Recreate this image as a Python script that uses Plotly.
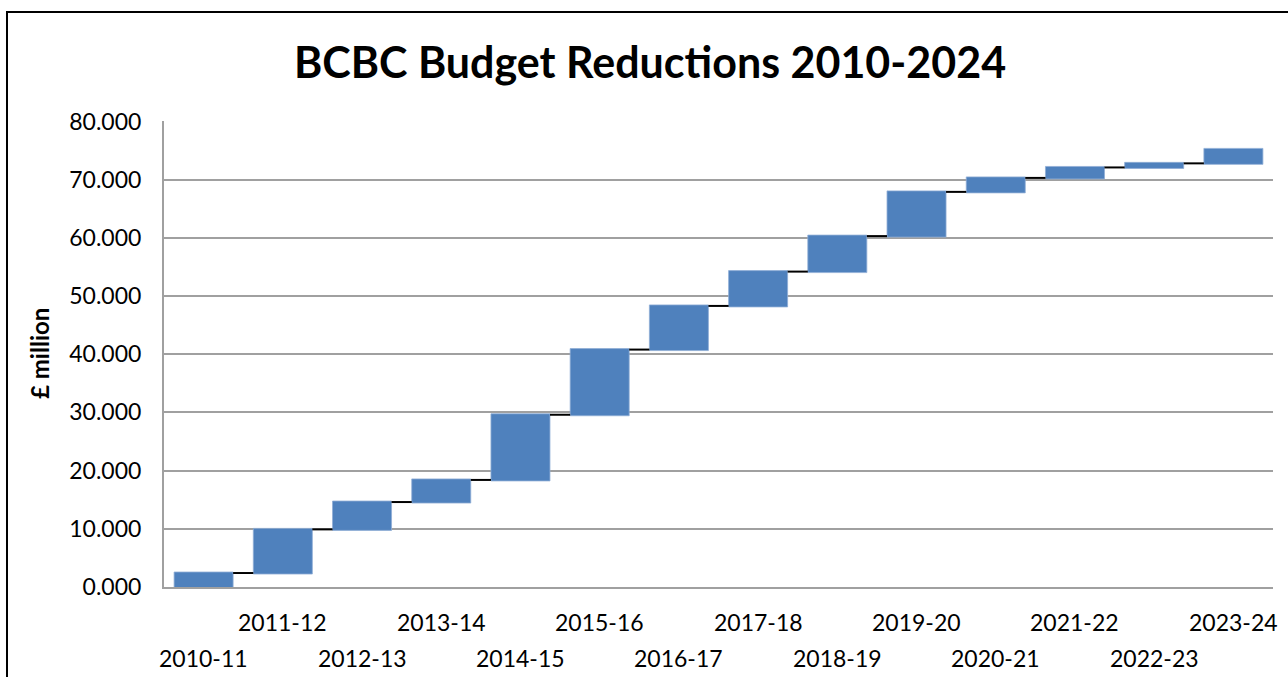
import plotly.graph_objects as go

years = ["2010-11", "2011-12", "2012-13", "2013-14", "2014-15", "2015-16", "2016-17",
         "2017-18", "2018-19", "2019-20", "2020-21", "2021-22", "2022-23", "2023-24"]
reductions = [2.4, 7.5, 4.7, 3.8, 11.2, 11.2, 7.5, 5.9, 6.1, 7.6, 2.4, 1.8, 0.7, 2.4]
y_ticks = [0, 10, 20, 30, 40, 50, 60, 70, 80]
y_tick_labels = ["%.3f" % v for v in y_ticks]

W, H = 1288, 677
ML, MR, MT, MB = 164, 15, 121, 90
PW = W - ML - MR
PH = H - MT - MB

FONT = "Lato, Open Sans, sans-serif"
BLUE = "#4F81BD"
GRID = "#A0A0A0"

fig = go.Figure()
fig.add_trace(go.Waterfall(
    x=years,
    y=reductions,
    measure=["relative"] * len(years),
    increasing=dict(marker=dict(color=BLUE, line=dict(color="#8FADD6", width=0.8))),
    decreasing=dict(marker=dict(color=BLUE)),
    totals=dict(marker=dict(color=BLUE)),
    connector=dict(mode="between", line=dict(color="black", width=2)),
    hoverinfo="x+y",
))

# staggered category labels
annotations = []
for i, lab in enumerate(years):
    annotations.append(dict(
        x=lab, xref="x", y=0, yref="paper", yanchor="middle",
        yshift=-35 if i % 2 == 1 else -71,
        text=lab, showarrow=False,
        font=dict(family=FONT, size=23, color="black"),
    ))

annotations.append(dict(
    x=(39 - ML) / PW, xref="paper", y=0.5, yref="paper",
    text="<b>£ million</b>", textangle=-90, showarrow=False,
    xanchor="center", yanchor="middle",
    font=dict(family=FONT, size=24, color="black"),
))

frame = dict(
    type="path", xref="paper", yref="paper",
    path="M %f %f L %f %f L %f %f" % (
        (7 - ML) / PW, -(H + 20 - MT - PH) / PH,
        (7 - ML) / PW, 1 + (MT - 12) / PH,
        (W + 20 - ML) / PW, 1 + (MT - 12) / PH),
    line=dict(color="black", width=2),
)

fig.update_layout(
    width=W, height=H,
    margin=dict(l=ML, r=MR, t=MT, b=MB),
    paper_bgcolor="white", plot_bgcolor="white",
    showlegend=False,
    waterfallgap=0.255,
    title=dict(
        text="<b>BCBC Budget Reductions 2010-2024</b>",
        x=650 / W, xref="container", xanchor="center",
        y=1 - 63 / H, yref="container", yanchor="middle",
        font=dict(family=FONT, size=43, color="black"),
    ),
    xaxis=dict(
        type="category", range=[-0.5, len(years) - 0.5],
        showticklabels=False, showgrid=False, ticks="",
        showline=True, linecolor=GRID, linewidth=2,
    ),
    yaxis=dict(
        range=[0, 80.08], tickvals=y_ticks, ticktext=y_tick_labels,
        showgrid=True, gridcolor=GRID, gridwidth=1.5,
        showline=True, linecolor=GRID, linewidth=2,
        ticks="", ticklabelstandoff=16, zeroline=False,
        tickfont=dict(family=FONT, size=23, color="black"),
    ),
    annotations=annotations,
    shapes=[frame],
)

fig.write_html(
    "out.html",
    config={"displayModeBar": False},
    post_script="document.body.style.margin='0';document.body.style.overflow='hidden';",
)
